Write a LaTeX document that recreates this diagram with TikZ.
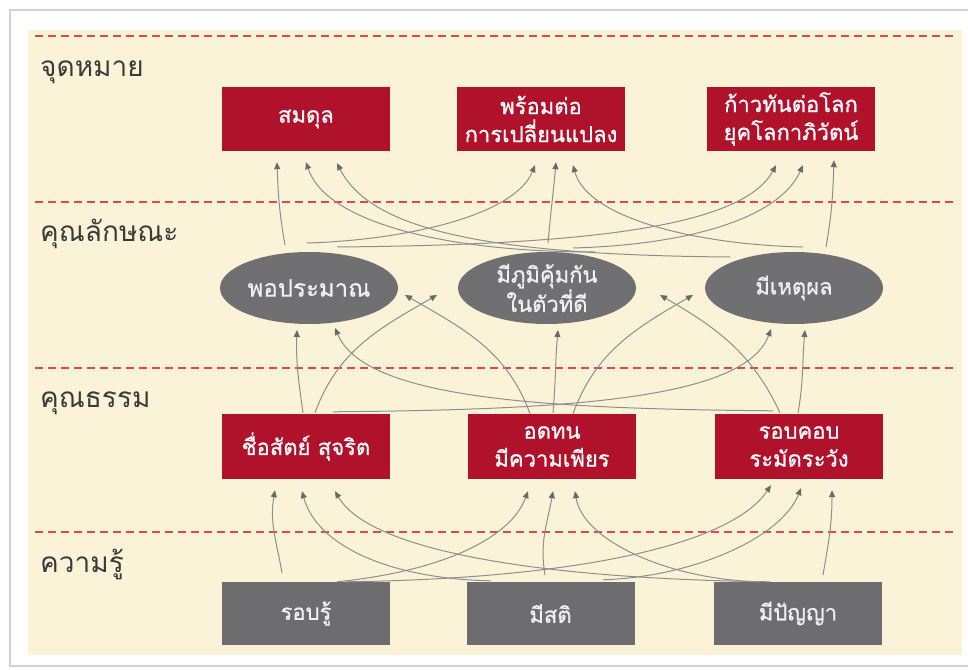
\documentclass[tikz,border=0pt]{standalone}
\usepackage{fontspec}
\usetikzlibrary{arrows.meta,shapes.geometric}
\newfontfamily\thaifont[Script=Thai]{Loma}
\newfontfamily\thaiheavy[Script=Thai,FakeBold=0.8]{Loma}
\definecolor{cream}{HTML}{FBF3D7}
\definecolor{boxred}{HTML}{B0112B}
\definecolor{boxgray}{HTML}{6D6D6F}
\definecolor{ovalgray}{HTML}{707072}
\definecolor{dashred}{HTML}{E0484E}
\definecolor{linkgray}{HTML}{8E8E90}
\definecolor{tipgray}{HTML}{6A6A6C}
\definecolor{labelgray}{HTML}{3A3A3A}
\tikzset{
  boxtext/.style={font=\thaiheavy\fontsize{22}{28}\selectfont},
  redbox/.style={boxtext, fill=boxred, text=white, minimum width=168pt, minimum height=64pt, inner sep=0pt, align=center},
  graybox/.style={boxtext, fill=boxgray, text=white!94!black, minimum width=168pt, minimum height=63pt, inner sep=0pt, align=center},
  oval/.style={boxtext, ellipse, fill=ovalgray, text=white!94!black, minimum width=178pt, minimum height=72pt, inner sep=0pt, align=center},
  rowlabel/.style={font=\thaifont\fontsize{28}{32}\selectfont, text=labelgray, anchor=base west, inner sep=0pt},
  divider/.style={draw=dashred, line width=1.4pt, dash pattern=on 8pt off 5pt},
  conn/.style={draw=linkgray, line width=1pt, -{Triangle[length=7pt,width=6pt,fill=tipgray,color=tipgray]}}
}
\begin{document}
\begin{tikzpicture}[x=1pt,y=1pt]
\useasboundingbox (0,0) rectangle (968,669);
% card and panel
\fill[white] (0,0) rectangle (968,669);
\draw[gray!35, line width=1.5pt] (10,3) rectangle (980,659);
\fill[cream] (28,14) rectangle (962,639);
% row dividers
\foreach \yy in {633,467,301,137} \draw[divider] (35,\yy) -- (955,\yy);
% row labels
\node[rowlabel] (lab1) at (40,592) {จุดหมาย};
\node[rowlabel] (lab2) at (40,427) {คุณลักษณะ};
\node[rowlabel] (lab3) at (40,261) {คุณธรรม};
\node[rowlabel] (lab4) at (40,96) {ความรู้};
% goals
\node[redbox] (g1) at (306,550) {สมดุล};
\node[redbox] (g2) at (541,550) {พร้อมต่อ\\การเปลี่ยนแปลง};
\node[redbox] (g3) at (791,550) {ก้าวทันต่อโลก\\ยุคโลกาภิวัตน์};
% characteristics
\node[oval] (c1) at (309,381) {\fontsize{24}{28}\selectfont พอประมาณ};
\node[oval] (c2) at (547,381) {มีภูมิคุ้มกัน\\ในตัวที่ดี};
\node[oval] (c3) at (794,381) {มีเหตุผล};
% virtues
\node[redbox, minimum height=65pt] (v1) at (306,222.5) {ชื่อสัตย์ สุจริต};
\node[redbox, minimum height=65pt] (v2) at (552,222.5) {อดทน\\มีความเพียร};
\node[redbox, minimum height=65pt] (v3) at (799,222.5) {รอบคอบ\\ระมัดระวัง};
% knowledge
\node[graybox] (k1) at (306,55.5) {รอบรู้};
\node[graybox] (k2) at (550.5,55.5) {มีสติ};
\node[graybox] (k3) at (798,55.5) {มีปัญญา};

% knowledge -> virtues
\draw[conn] ([shift={(-24,9)}]k1.north) to[out=100,in=-100] ([shift={(-31,-11)}]v1.south);
\draw[conn] ([shift={(31,0)}]k1.north) .. controls +(100,10) and +(-18,-49) .. ([shift={(-24,-12)}]v2.south);
\draw[conn] ([shift={(39,0)}]k1.north) .. controls +(230,3) and +(-40,-60) .. ([shift={(-28,-6)}]v3.south);
\draw[conn] ([shift={(-60,1)}]k2.north) .. controls +(-100,2) and +(15,-55) .. ([shift={(-4,-12)}]v1.south);
\draw[conn] ([shift={(-5.5,7)}]k2.north) to[out=100,in=-100] ([shift={(1,-12)}]v2.south);
\draw[conn] ([shift={(52.5,2)}]k2.north) .. controls +(90,3) and +(-20,-50) .. ([shift={(2,-9)}]v3.south);
\draw[conn] ([shift={(-28,0)}]k3.north) .. controls +(-230,3) and +(35,-60) .. ([shift={(29,-12)}]v1.south);
\draw[conn] ([shift={(-38,0)}]k3.north) .. controls +(-90,2) and +(8,-50) .. ([shift={(23,-12)}]v2.south);
\draw[conn] ([shift={(25,7)}]k3.north) to[out=80,in=-90] ([shift={(33,-11)}]v3.south);

% virtues -> characteristics
\draw[conn] ([shift={(-3,1)}]v1.north) to[out=98,in=-92] ([shift={(-12,-42)}]c1.center);
\draw[conn] ([shift={(9,1)}]v1.north) to[out=70,in=-150] ([shift={(-110,-7)}]c2.center);
\draw[conn] ([shift={(27,2)}]v1.north) .. controls +(230,2) and +(-26,-71) .. ([shift={(-23,-41)}]c3.center);
\draw[conn] ([shift={(-22,0)}]v2.north) to[out=110,in=-30] ([shift={(96,-7)}]c1.center);
\draw[conn] ([shift={(1,1)}]v2.north) to[out=85,in=-95] ([shift={(11,-42)}]c2.center);
\draw[conn] ([shift={(21,0)}]v2.north) to[out=70,in=-150] ([shift={(-101,-7)}]c3.center);
\draw[conn] ([shift={(-26,3)}]v3.north) .. controls +(-230,2) and +(30,-71) .. ([shift={(26,-40)}]c1.center);
\draw[conn] ([shift={(-19,1)}]v3.north) to[out=115,in=-30] ([shift={(113,-7)}]c2.center);
\draw[conn] ([shift={(-1,1)}]v3.north) to[out=80,in=-95] ([shift={(11,-42)}]c3.center);

% characteristics -> goals
\draw[conn] ([shift={(-24,43)}]c1.center) to[out=100,in=-88] ([shift={(-29,-11)}]g1.south);
\draw[conn] ([shift={(-2,45)}]c1.center) .. controls +(100,3) and +(-20,-50) .. ([shift={(-6,-14)}]g2.south);
\draw[conn] ([shift={(28,41)}]c1.center) .. controls +(230,2) and +(-35,-65) .. ([shift={(-15,-14)}]g3.south);
\draw[conn] ([shift={(48,36)}]c2.center) .. controls +(-150,0) and +(20,-60) .. ([shift={(0,-11)}]g1.south);
\draw[conn] ([shift={(1,45)}]c2.center) to[out=85,in=-95] ([shift={(15,-11)}]g2.south);
\draw[conn] ([shift={(26,40)}]c2.center) .. controls +(110,3) and +(-25,-55) .. ([shift={(12,-14)}]g3.south);
\draw[conn] ([shift={(-64,31)}]c3.center) .. controls +(-250,2) and +(33,-65) .. ([shift={(31,-12)}]g1.south);
\draw[conn] ([shift={(9,41)}]c3.center) .. controls +(-100,2) and +(15,-55) .. ([shift={(32,-14)}]g2.south);
\draw[conn] ([shift={(32,41)}]c3.center) to[out=80,in=-92] ([shift={(43,-9)}]g3.south);
\end{tikzpicture}
\end{document}
